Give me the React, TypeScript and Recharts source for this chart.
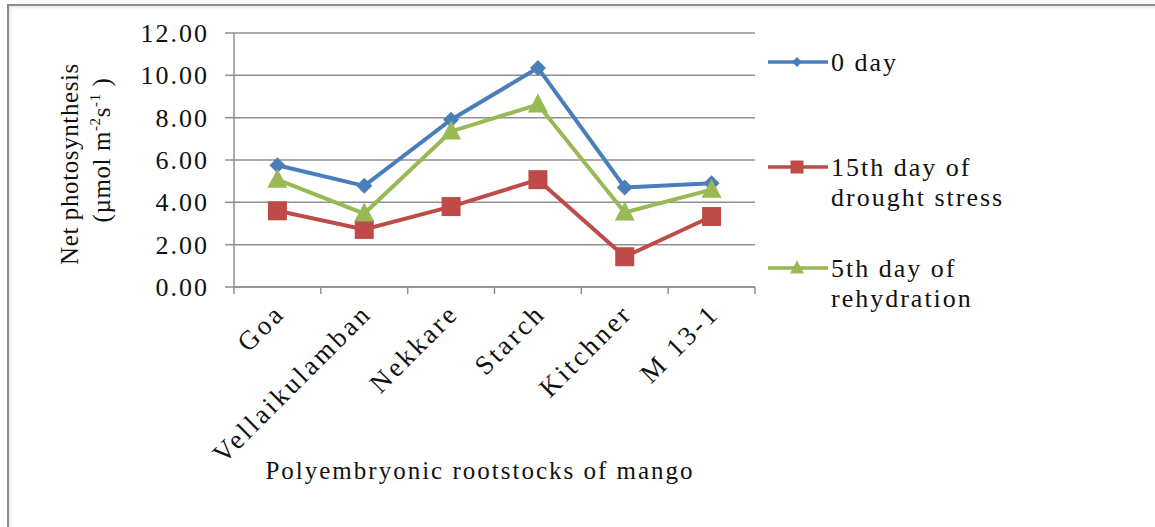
import { LineChart, Line, XAxis, YAxis, CartesianGrid } from 'recharts';

const categories = ['Goa', 'Vellaikulamban', 'Nekkare', 'Starch', 'Kitchner', 'M 13-1'];
const day0 = [5.75, 4.78, 7.9, 10.35, 4.7, 4.9];
const day15Drought = [3.6, 2.72, 3.8, 5.07, 1.43, 3.33];
const day5Rehydration = [5.07, 3.47, 7.35, 8.62, 3.52, 4.6];
const yTicks = [0, 2, 4, 6, 8, 10, 12];

const data = categories.map((name, i) => ({
  name,
  day0: day0[i],
  day15: day15Drought[i],
  day5: day5Rehydration[i],
}));

const W = 1155;
const H = 527;
const PLOT_LEFT = 234;
const PLOT_RIGHT = 755;
const PLOT_TOP = 33;
const PLOT_BOTTOM = 287;
const FONT = '"Liberation Serif", "Times New Roman", serif';
const AXIS = '#8f8f8f';
const BLUE = '#4a7ebb';
const RED = '#be4b48';
const GREEN = '#98b954';

const Diamond = ({ cx, cy, r = 8, fill }: any) => (
  <path d={`M${cx},${cy - r}L${cx + r},${cy}L${cx},${cy + r}L${cx - r},${cy}Z`} fill={fill} />
);
const Square = ({ cx, cy, s = 19, fill }: any) => (
  <rect x={cx - s / 2} y={cy - s / 2} width={s} height={s} fill={fill} />
);
const Triangle = ({ cx, cy, s = 20, fill }: any) => (
  <path d={`M${cx},${cy - s * 0.55}L${cx + s / 2},${cy + s * 0.4}L${cx - s / 2},${cy + s * 0.4}Z`} fill={fill} />
);

const XTick = ({ x, y, payload, index }: any) => {
  const band = (PLOT_RIGHT - PLOT_LEFT) / categories.length;
  const tx = x + 9;
  const ty = y + 28;
  return (
    <g>
      <line x1={x - band / 2} x2={x - band / 2} y1={y} y2={y + 7} stroke={AXIS} strokeWidth={1.5} />
      {index === categories.length - 1 && (
        <line x1={x + band / 2} x2={x + band / 2} y1={y} y2={y + 7} stroke={AXIS} strokeWidth={1.5} />
      )}
      <text
        x={tx}
        y={ty}
        transform={`rotate(-45 ${tx} ${ty})`}
        textAnchor="end"
        fontFamily={FONT}
        fontSize={27}
        letterSpacing={3}
        fill="#111"
      >
        {payload.value}
      </text>
    </g>
  );
};

const YTick = ({ x, y, payload }: any) => (
  <text x={x - 16} y={y + 9} textAnchor="end" fontFamily={FONT} fontSize={26} letterSpacing={2} fill="#111">
    {Number(payload.value).toFixed(2)}
  </text>
);

const legendItems = [
  { color: BLUE, lines: ['0 day'], y: 62, marker: 'diamond' },
  { color: RED, lines: ['15th day of', 'drought stress'], y: 167, marker: 'square' },
  { color: GREEN, lines: ['5th day of', 'rehydration'], y: 268, marker: 'triangle' },
];

export default function App() {
  return (
    <div style={{ position: 'absolute', left: 0, top: 0, width: W, height: H, overflow: 'hidden', background: '#fff' }}>
      <div
        style={{
          position: 'absolute',
          left: 7,
          top: 4,
          width: 1300,
          height: 700,
          borderLeft: '2.5px solid #8c8c8c',
          borderTop: '2.5px solid #8c8c8c',
          boxShadow: 'inset 2px 2px 3px rgba(0,0,0,0.08)',
        }}
      />
      <div style={{ position: 'absolute', left: 0, top: 0 }}>
        <LineChart
          width={W}
          height={H}
          data={data}
          margin={{ top: PLOT_TOP, right: W - PLOT_RIGHT, bottom: 0, left: 0 }}
        >
          <CartesianGrid vertical={false} stroke={AXIS} strokeWidth={1.5} />
          <XAxis
            dataKey="name"
            scale="band"
            height={H - PLOT_BOTTOM}
            interval={0}
            tickLine={false}
            tickSize={0}
            tickMargin={0}
            axisLine={{ stroke: AXIS, strokeWidth: 1.5 }}
            tick={<XTick />}
          />
          <YAxis
            width={PLOT_LEFT}
            domain={[0, 12]}
            ticks={yTicks}
            tickSize={9}
            tickMargin={0}
            tickLine={{ stroke: AXIS, strokeWidth: 1.5 }}
            axisLine={{ stroke: AXIS, strokeWidth: 1.5 }}
            tick={<YTick />}
          />
          <Line
            dataKey="day0"
            stroke={BLUE}
            strokeWidth={4}
            isAnimationActive={false}
            dot={(p: any) => <Diamond key={p.index} cx={p.cx} cy={p.cy} fill={BLUE} />}
          />
          <Line
            dataKey="day15"
            stroke={RED}
            strokeWidth={4}
            isAnimationActive={false}
            dot={(p: any) => <Square key={p.index} cx={p.cx} cy={p.cy} fill={RED} />}
          />
          <Line
            dataKey="day5"
            stroke={GREEN}
            strokeWidth={4}
            isAnimationActive={false}
            dot={(p: any) => <Triangle key={p.index} cx={p.cx} cy={p.cy} fill={GREEN} />}
          />
        </LineChart>
      </div>
      <svg width={W} height={H} style={{ position: 'absolute', left: 0, top: 0, pointerEvents: 'none' }}>
        <text
          transform="translate(78 164) rotate(-90)"
          textAnchor="middle"
          fontFamily={FONT}
          fontSize={25}
          letterSpacing={0.6}
          fill="#111"
        >
          Net photosynthesis
        </text>
        <text
          transform="translate(110 150) rotate(-90)"
          textAnchor="middle"
          fontFamily={FONT}
          fontSize={25}
          letterSpacing={0.6}
          fill="#111"
        >
          (µmol m
          <tspan fontSize={15} dy={-10}>-2</tspan>
          <tspan dy={10}>s</tspan>
          <tspan fontSize={15} dy={-10}>-1</tspan>
          <tspan dy={10}> )</tspan>
        </text>
        <text x={480} y={479} textAnchor="middle" fontFamily={FONT} fontSize={25} letterSpacing={2} fill="#111">
          Polyembryonic rootstocks of mango
        </text>
        {legendItems.map((it) => (
          <g key={it.lines[0]}>
            <line x1={768} x2={828} y1={it.y} y2={it.y} stroke={it.color} strokeWidth={3.5} />
            {it.marker === 'diamond' && <Diamond cx={797} cy={it.y} r={5} fill={it.color} />}
            {it.marker === 'square' && <Square cx={797} cy={it.y} s={13} fill={it.color} />}
            {it.marker === 'triangle' && <Triangle cx={797} cy={it.y} s={14} fill={it.color} />}
            {it.lines.map((ln, j) => (
              <text
                key={ln}
                x={831}
                y={it.y + 9 + j * 30}
                fontFamily={FONT}
                fontSize={26}
                letterSpacing={2}
                fill="#111"
              >
                {ln}
              </text>
            ))}
          </g>
        ))}
      </svg>
    </div>
  );
}
